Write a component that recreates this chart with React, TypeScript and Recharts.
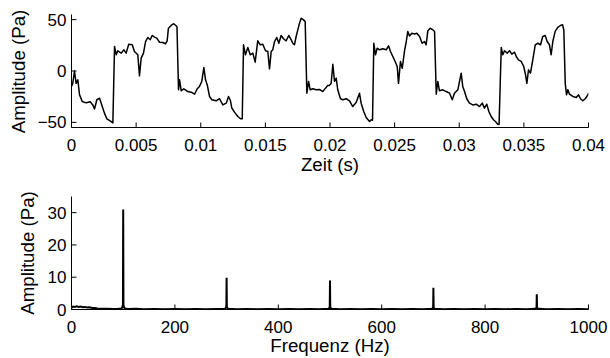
import React from 'react';
import { LineChart, Line, XAxis, YAxis } from 'recharts';

// ---- Time signal (top) ----
const timeS = [
  0.0, 0.0001, 0.00023, 0.00036, 0.00049, 0.00062, 0.00083, 0.00114, 0.00145, 0.00165,
  0.00178, 0.00196, 0.00217, 0.00238, 0.00255, 0.00273, 0.00299, 0.00312, 0.0032, 0.00333,
  0.00346, 0.00358, 0.00385, 0.00405, 0.00423, 0.00443, 0.0047, 0.00487, 0.00513, 0.00526,
  0.00539, 0.00557, 0.00573, 0.0059, 0.00609, 0.00624, 0.00642, 0.0066, 0.00681, 0.00706,
  0.00727, 0.0074, 0.0075, 0.00771, 0.00791, 0.00807, 0.00816, 0.00828, 0.00836, 0.00849,
  0.00869, 0.009, 0.00926, 0.00952, 0.00973, 0.0099, 0.01008, 0.01024, 0.01037, 0.0105,
  0.01068, 0.01086, 0.0112, 0.01145, 0.01171, 0.01197, 0.01215, 0.0123, 0.0124, 0.01261,
  0.01287, 0.01308, 0.01321, 0.01331, 0.01346, 0.01364, 0.01383, 0.01403, 0.01421, 0.01441,
  0.0146, 0.0148, 0.01501, 0.01519, 0.01532, 0.01545, 0.01557, 0.01571, 0.01588, 0.01604,
  0.01622, 0.0164, 0.01661, 0.01681, 0.017, 0.01712, 0.01725, 0.01738, 0.01751, 0.01764,
  0.01777, 0.01795, 0.01808, 0.01821, 0.01834, 0.01847, 0.01867, 0.01893, 0.01919, 0.01944,
  0.01965, 0.01983, 0.01996, 0.02009, 0.02022, 0.02035, 0.02048, 0.0206, 0.02081, 0.02099,
  0.02125, 0.02151, 0.02176, 0.02203, 0.02228, 0.02241, 0.02261, 0.0228, 0.02306, 0.02319,
  0.02329, 0.02339, 0.02352, 0.02365, 0.02383, 0.02409, 0.02435, 0.02453, 0.02468, 0.02486,
  0.02504, 0.0252, 0.0253, 0.02545, 0.02559, 0.02576, 0.0259, 0.02602, 0.02615, 0.02633,
  0.02654, 0.02672, 0.02693, 0.02713, 0.02731, 0.02744, 0.02757, 0.02775, 0.02795, 0.02809,
  0.02822, 0.02834, 0.02847, 0.02873, 0.02899, 0.02925, 0.02946, 0.02963, 0.02989, 0.03002,
  0.03015, 0.03027, 0.03041, 0.03058, 0.03079, 0.03105, 0.03131, 0.03157, 0.03178, 0.03195,
  0.03213, 0.03229, 0.03247, 0.03265, 0.0328, 0.03298, 0.03308, 0.03325, 0.03337, 0.0335,
  0.03371, 0.03389, 0.03407, 0.03428, 0.03441, 0.03458, 0.03479, 0.03499, 0.03513, 0.03523,
  0.03536, 0.03551, 0.03569, 0.03588, 0.03608, 0.03629, 0.03646, 0.03665, 0.0368, 0.03698,
  0.03711, 0.03724, 0.03742, 0.03762, 0.03783, 0.03799, 0.03809, 0.0382, 0.0383, 0.0384,
  0.03853, 0.03879, 0.03905, 0.03923, 0.03938, 0.03956, 0.03975, 0.03995, 0.04,
];
const amplitudePa = [
  -15, -12, 0, -12, -8.6, -23, -29.7, -31, -30, -33,
  -37, -28, -26.5, -34.6, -41, -46.5, -48.5, -49.8, -50.5, 23.9,
  15.8, 19.7, 17.4, 20.6, 17.4, 26, 25.5, 19, 15.8, -4.7,
  12.5, 17.4, 28.7, 32.6, 30.4, 34.6, 33, 32, 28, 27.7,
  26.5, 29.4, 41.7, 44.3, 46, 44.3, 43, -18.3, -8.6, -19.3,
  -17.3, -20, -20.6, -22.6, -17.3, -15, -10.2, 3.4, -8.6, -13.4,
  -24.8, -28, -29, -27, -33, -31.3, -24.8, -29, -36, -40,
  -44.3, -46.5, -46.5, 25.5, 15.8, 22.9, 15.8, 17.4, 8.6, 29.4,
  25.5, 26, 19.7, 19, 2.1, 19, 20.6, 28.7, 32.6, 27,
  34.6, 31.4, 29.4, 34.6, 30.4, 27, 25.5, 33.6, 40, 46.5,
  51.4, 49.8, 48.2, -21.6, -10.2, -18.3, -17.3, -18.3, -18, -20,
  -16.7, -14, -14, -12, 6.6, -10.2, -7, -18.3, -27, -28,
  -27, -29, -34.6, -30.4, -21.6, -31.3, -39.4, -45.3, -49.2, -47.5,
  -48, 27, 15.8, 22.2, 20.6, 21.6, 20.6, 24.5, 19, 14.1,
  9.3, 4.4, -12, 9.3, 2.7, 19, 28.7, 38.5, 34, 36.8,
  36, 36.8, 33.6, 27, 28.7, 25.5, 39.1, 41.7, 40.1, 38.5,
  -22.6, -10.2, -19.3, -18.3, -20, -21.6, -28, -21.6, -18.3, -10.2,
  -2.1, -15, -20, -27, -31.3, -33, -32.3, -34.6, -31.3, -36.2,
  -32.3, -39.4, -44.3, -47.5, -49.2, -51.8, -52, 22.9, 15.8, 19.7,
  17.4, 19.7, 16.4, 18.3, 14.1, 10.9, 9.3, 4.4, -3.7, -12,
  1.2, -2.1, 10.9, 25.5, 27, 25.5, 33.6, 34.6, 28.7, 25.5,
  15.8, 28.7, 38.5, 42.4, 44.3, 45, 40.1, -12, -23.2, -18.3,
  -22.6, -24.8, -25.8, -23.2, -27, -29, -27, -23.2, -21.6,
];
const timeTicks = [0, 0.005, 0.01, 0.015, 0.02, 0.025, 0.03, 0.035, 0.04];
const ampTicks = [-50, 0, 50];

// ---- Spectrum (bottom) ----
const freqHz = [
  0, 3, 6, 10, 14, 18, 22, 26, 30, 35, 40, 45, 50, 60, 70, 80, 90, 97, 98.5, 99.5,
  100, 100.5, 101.5, 103, 110, 125, 140, 160, 180, 200, 220, 240, 260, 280, 297, 298.5,
  299.5, 300, 300.5, 301.5, 303, 320, 340, 360, 380, 400, 420, 440, 460, 480, 497, 498.5,
  499.5, 500, 500.5, 501.5, 503, 520, 540, 560, 580, 600, 620, 640, 660, 680, 697, 698.5,
  699.5, 700, 700.5, 701.5, 703, 720, 740, 760, 780, 800, 820, 840, 860, 880, 897, 898.5,
  899.5, 900, 900.5, 901.5, 903, 920, 940, 960, 980, 1000,
];
const spectrumPa = [
  0.6, 0.9, 0.8, 1.0, 0.8, 0.9, 0.7, 0.8, 0.6, 0.7, 0.5, 0.5, 0.3, 0.2, 0.25, 0.15, 0.2, 0.3, 0.8, 1.5,
  31, 1.5, 0.8, 0.3, 0.15, 0.2, 0.1, 0.15, 0.1, 0.15, 0.1, 0.12, 0.1, 0.15, 0.2, 0.5,
  1.0, 9.8, 1.0, 0.5, 0.2, 0.1, 0.15, 0.1, 0.12, 0.1, 0.15, 0.1, 0.12, 0.1, 0.2, 0.4,
  0.8, 9.0, 0.8, 0.4, 0.2, 0.1, 0.12, 0.1, 0.15, 0.1, 0.12, 0.1, 0.15, 0.1, 0.2, 0.4,
  0.7, 6.7, 0.7, 0.4, 0.2, 0.1, 0.12, 0.1, 0.15, 0.1, 0.12, 0.1, 0.15, 0.1, 0.2, 0.3,
  0.6, 4.7, 0.6, 0.3, 0.2, 0.1, 0.12, 0.1, 0.15, 0.1,
];
const freqTicks = [0, 200, 400, 600, 800, 1000];
const specTicks = [0, 10, 20, 30];

const timeData = timeS.map((t, i) => ({ t, a: amplitudePa[i] }));
const specData = freqHz.map((f, i) => ({ f, a: spectrumPa[i] }));

const FONT = "'Liberation Sans', Arial, Helvetica, sans-serif";
const tickStyle = { fontSize: 17, fill: '#000', fontFamily: FONT };
const axisLine = { stroke: '#000', strokeWidth: 1 };
const tickLine = { stroke: '#000', strokeWidth: 1 };
const blank = () => '';
const fmtNum = (v: number) => (v < 0 ? '\u2212' + Math.abs(v) : String(v));

export default function App() {
  return (
    <div style={{ position: 'absolute', left: 0, top: 0, width: 610, height: 358, background: '#fff' }}>
      <div style={{ position: 'absolute', left: 0, top: 0 }}>
        <LineChart width={610} height={179} data={timeData} margin={{ top: 14.5, right: 21.5, bottom: 21.5, left: 11.5 }}>
          <XAxis xAxisId="b" dataKey="t" type="number" domain={[0, 0.04]} ticks={timeTicks} interval={0}
            height={30} tickSize={-5} tickMargin={16} tick={tickStyle} axisLine={axisLine} tickLine={tickLine}
            allowDataOverflow />
          <XAxis xAxisId="t" orientation="top" dataKey="t" type="number" domain={[0, 0.04]} ticks={timeTicks} interval={0}
            height={0} tickSize={-5} tickFormatter={blank} axisLine={axisLine} tickLine={tickLine} allowDataOverflow />
          <YAxis yAxisId="l" type="number" domain={[-55, 55]} ticks={ampTicks} interval={0} width={60}
            tickSize={-5} tickMargin={10} tick={tickStyle} tickFormatter={fmtNum} axisLine={axisLine} tickLine={tickLine}
            allowDataOverflow />
          <YAxis yAxisId="r" orientation="right" type="number" domain={[-55, 55]} ticks={ampTicks} interval={0} width={0}
            tickSize={-5} tickFormatter={blank} axisLine={axisLine} tickLine={tickLine} allowDataOverflow />
          <Line xAxisId="b" yAxisId="l" dataKey="a" type="linear" stroke="#000" strokeWidth={1.5} dot={false}
            strokeLinejoin="round" isAnimationActive={false} />
        </LineChart>
      </div>
      <div style={{ position: 'absolute', left: 0, top: 179 }}>
        <LineChart width={610} height={179} data={specData} margin={{ top: 17.5, right: 21.5, bottom: 18.5, left: 11.5 }}>
          <XAxis xAxisId="b" dataKey="f" type="number" domain={[0, 1000]} ticks={freqTicks} interval={0}
            height={30} tickSize={-5} tickMargin={16} tick={tickStyle} axisLine={axisLine} tickLine={tickLine}
            allowDataOverflow />
          <XAxis xAxisId="t" orientation="top" dataKey="f" type="number" domain={[0, 1000]} ticks={freqTicks} interval={0}
            height={0} tickSize={-5} tickFormatter={blank} axisLine={axisLine} tickLine={tickLine} allowDataOverflow />
          <YAxis yAxisId="l" type="number" domain={[0, 35]} ticks={specTicks} interval={0} width={60}
            tickSize={-5} tickMargin={10} tick={tickStyle} axisLine={axisLine} tickLine={tickLine} allowDataOverflow />
          <YAxis yAxisId="r" orientation="right" type="number" domain={[0, 35]} ticks={specTicks} interval={0} width={0}
            tickSize={-5} tickFormatter={blank} axisLine={axisLine} tickLine={tickLine} allowDataOverflow />
          <Line xAxisId="b" yAxisId="l" dataKey="a" type="linear" stroke="#000" strokeWidth={2} dot={false}
            isAnimationActive={false} />
        </LineChart>
      </div>
      <svg width={610} height={358} style={{ position: 'absolute', left: 0, top: 0, pointerEvents: 'none' }}>
        <g fontFamily={FONT} fontSize={18.7} fill="#000">
          <text transform="translate(24.7,71.5) rotate(-90)" textAnchor="middle">Amplitude (Pa)</text>
          <text x={330} y={170.5} textAnchor="middle">Zeit (s)</text>
          <text transform="translate(33.7,253) rotate(-90)" textAnchor="middle">Amplitude (Pa)</text>
          <text x={330} y={352} textAnchor="middle">Frequenz (Hz)</text>
        </g>
      </svg>
    </div>
  );
}
